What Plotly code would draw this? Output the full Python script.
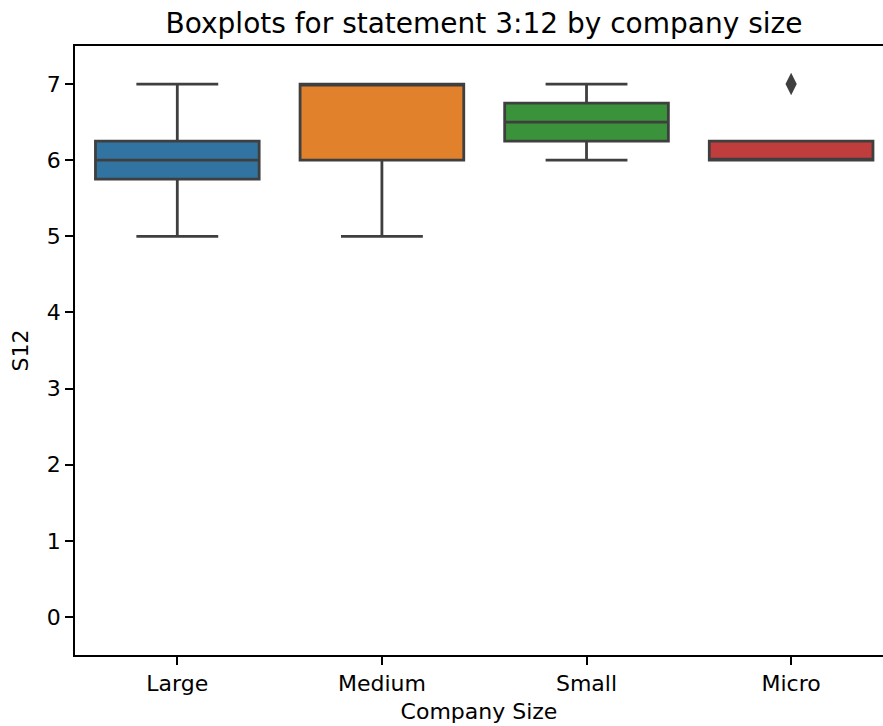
import plotly.graph_objects as go

# Summary statistics of S12 per company size
categories = ["Large", "Medium", "Small", "Micro"]
q1 = [5.75, 6.0, 6.25, 6.0]
median = [6.0, 7.0, 6.5, 6.0]
q3 = [6.25, 7.0, 6.75, 6.25]
lower_whisker = [5.0, 5.0, 6.0, 6.0]
upper_whisker = [7.0, 7.0, 7.0, 6.25]
outlier_cats = ["Micro"]
outlier_vals = [7.0]

fills = ["#3274a1", "#e1812c", "#3a923a", "#c03d3e"]
edge = "#3f3f3f"
font = "DejaVu Sans, Liberation Sans, sans-serif"

fig = go.Figure()
for i, cat in enumerate(categories):
    fig.add_trace(go.Box(
        x=[cat], q1=[q1[i]], median=[median[i]], q3=[q3[i]],
        lowerfence=[lower_whisker[i]], upperfence=[upper_whisker[i]],
        fillcolor=fills[i], line=dict(color=edge, width=2.8),
        width=0.8, whiskerwidth=0.5, boxpoints=False, showlegend=False,
        hoverinfo="skip",
    ))

fig.add_trace(go.Scatter(
    x=outlier_cats, y=outlier_vals, mode="markers",
    marker=dict(symbol="diamond-tall", size=16, color=edge, line=dict(width=0)),
    showlegend=False, hoverinfo="skip",
))

axis_common = dict(
    showline=True, linecolor="black", linewidth=1.6,
    ticks="outside", ticklen=8, tickwidth=1.6, tickcolor="black",
    showgrid=False, zeroline=False,
    tickfont=dict(family=font, size=22, color="black"),
)

fig.update_layout(
    width=883, height=726,
    margin=dict(l=75, r=0, t=46, b=71),
    paper_bgcolor="white", plot_bgcolor="white",
    boxmode="overlay",
    title=dict(text="Boxplots for statement 3:12 by company size",
               x=(75 + 893) / 2 / 883, xref="container", xanchor="center",
               y=1 - 23 / 726, yref="container", yanchor="middle",
               font=dict(family=font, size=28, color="black")),
    xaxis=dict(categoryorder="array", categoryarray=categories,
               range=[-0.5, 3.449], mirror=True,
               title=dict(text="Company Size", standoff=8,
                          font=dict(family=font, size=22, color="black")),
               **axis_common),
    yaxis=dict(range=[-0.5, 7.5], tickvals=list(range(8)), mirror=False,
               title=dict(text="S12", standoff=12,
                          font=dict(family=font, size=22, color="black")),
               **axis_common),
)

fig.write_html("out.html")
